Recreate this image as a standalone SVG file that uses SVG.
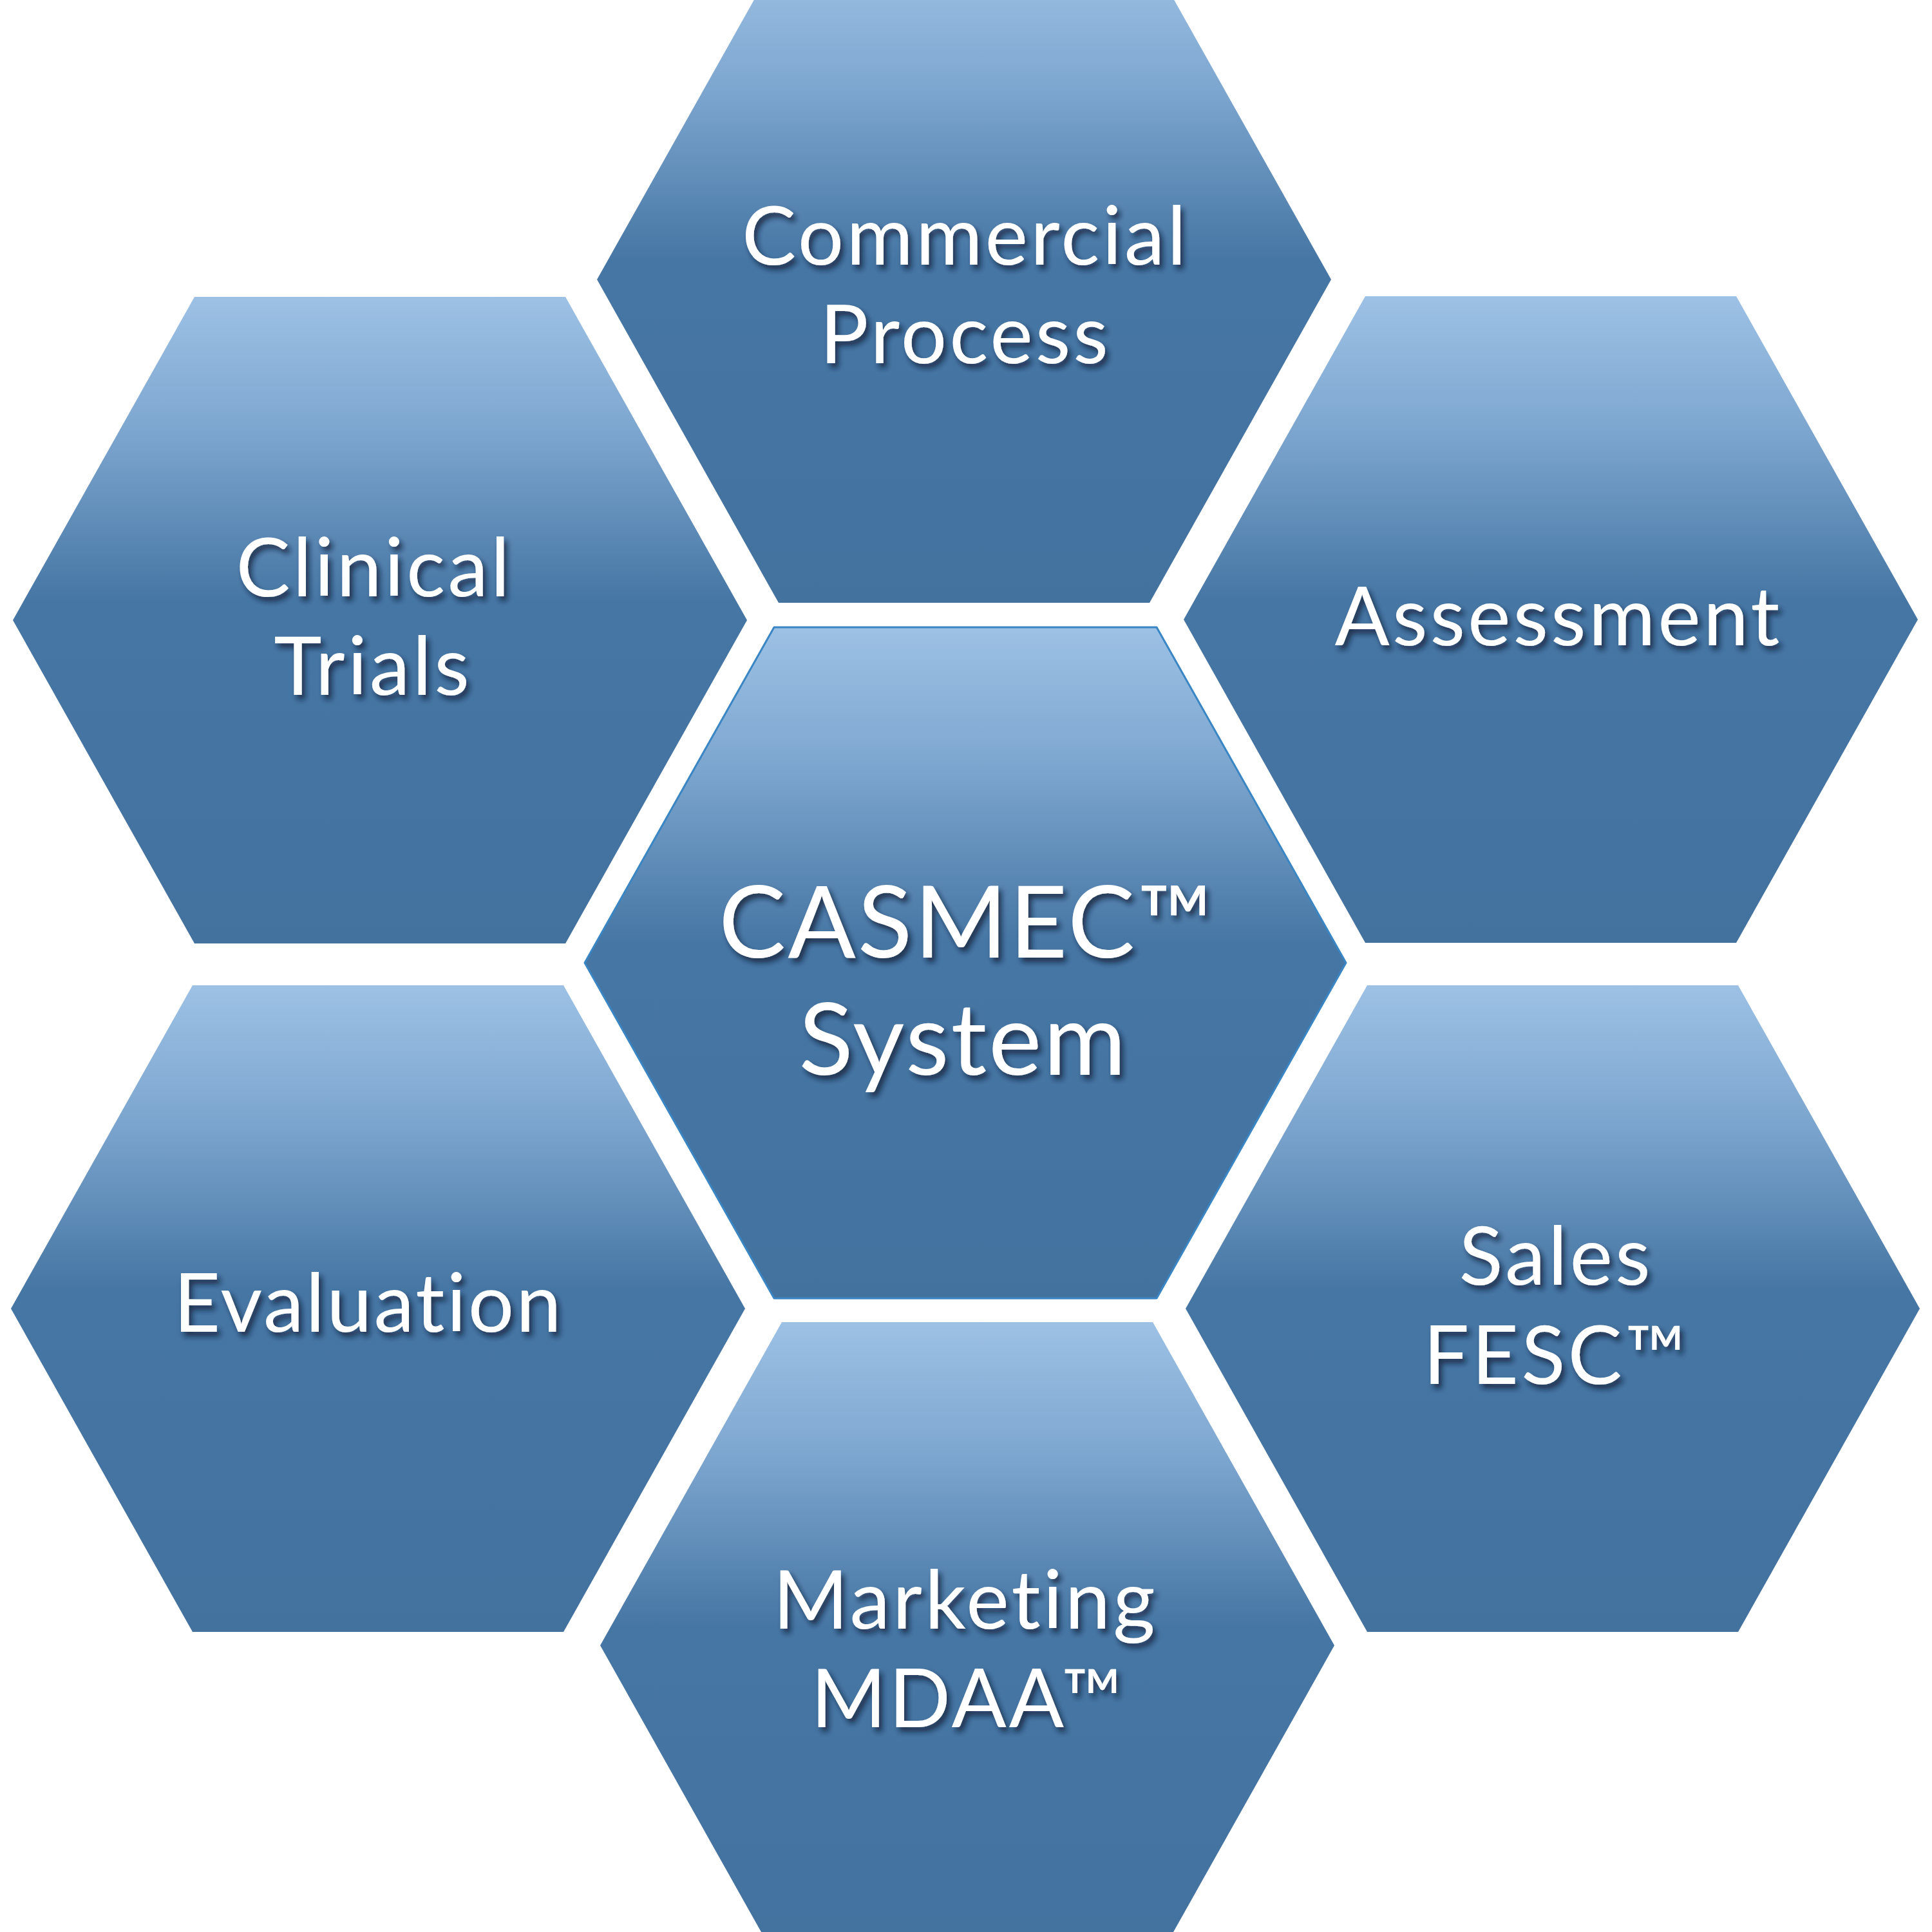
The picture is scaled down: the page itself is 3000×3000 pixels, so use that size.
<svg xmlns="http://www.w3.org/2000/svg" width="3000" height="3000" viewBox="0 0 3000 3000">
  <defs>
    <linearGradient id="hexGrad" x1="0" y1="0" x2="0" y2="1">
      <stop offset="0" stop-color="#9dc1e5"/>
      <stop offset="0.2" stop-color="#7ea7d0"/>
      <stop offset="0.47" stop-color="#4676a4"/>
      <stop offset="1" stop-color="#43729f"/>
    </linearGradient>
    <filter id="txtShadow" x="-20%" y="-40%" width="140%" height="180%">
      <feDropShadow dx="5" dy="7" stdDeviation="4" flood-color="#0f1f33" flood-opacity="0.75"/>
    </filter>
    <path id="hex" d="M -570 0 L -288 -502 L 288 -502 L 570 0 L 288 502 L -288 502 Z"/>
    <path id="hexBig" d="M -591 0 L -297 -521 L 297 -521 L 591 0 L 297 521 L -297 521 Z"/>
  </defs>
  <style>
    .hx { fill: url(#hexGrad); }
    .hxc { fill: url(#hexGrad); stroke: #3a86c4; stroke-width: 3; stroke-linejoin: round; }
    .lbl { font-family: Lato, "Open Sans", "Liberation Sans", sans-serif; font-size: 126px; fill: #ffffff; text-anchor: middle; letter-spacing: 4px; font-variant-ligatures: none; font-feature-settings: "liga" 0, "clig" 0; filter: url(#txtShadow); }
    .big { font-size: 156px; letter-spacing: 3px; }
  </style>
  <rect x="0" y="0" width="3000" height="3000" fill="#ffffff"/>
  <g id="connectors"/>
  <g id="commercial-process" transform="translate(1497 434)">
    <use href="#hex" class="hx"/>
    <text class="lbl" x="2" y="-23">Commercial</text>
    <text class="lbl" x="2" y="130">Process</text>
  </g>
  <g id="clinical-trials" transform="translate(590 963)">
    <use href="#hex" class="hx"/>
    <text class="lbl" x="-9" y="-37">Clinical</text>
    <text class="lbl" x="-11" y="116">Trials</text>
  </g>
  <g id="assessment" transform="translate(2408 962)">
    <use href="#hex" class="hx"/>
    <text class="lbl" x="12" y="40">Assessment</text>
  </g>
  <g id="casmec-system" transform="translate(1499 1495)">
    <use href="#hexBig" class="hxc"/>
    <text class="lbl big" x="2" y="-8">CASMEC™</text>
    <text class="lbl big" x="-3" y="174">System</text>
  </g>
  <g id="evaluation" transform="translate(587 2032)">
    <use href="#hex" class="hx"/>
    <text class="lbl" x="-15" y="36" style="letter-spacing:3px">Evaluation</text>
  </g>
  <g id="sales-fesc" transform="translate(2411 2032)">
    <use href="#hex" class="hx"/>
    <text class="lbl" x="5" y="-37">Sales</text>
    <text class="lbl" x="5" y="117">FESC™</text>
  </g>
  <g id="marketing-mdaa" transform="translate(1502 2555)">
    <use href="#hex" class="hx"/>
    <text class="lbl" x="-3" y="-26">Marketing</text>
    <text class="lbl" x="1" y="127">MDAA™</text>
  </g>
</svg>
